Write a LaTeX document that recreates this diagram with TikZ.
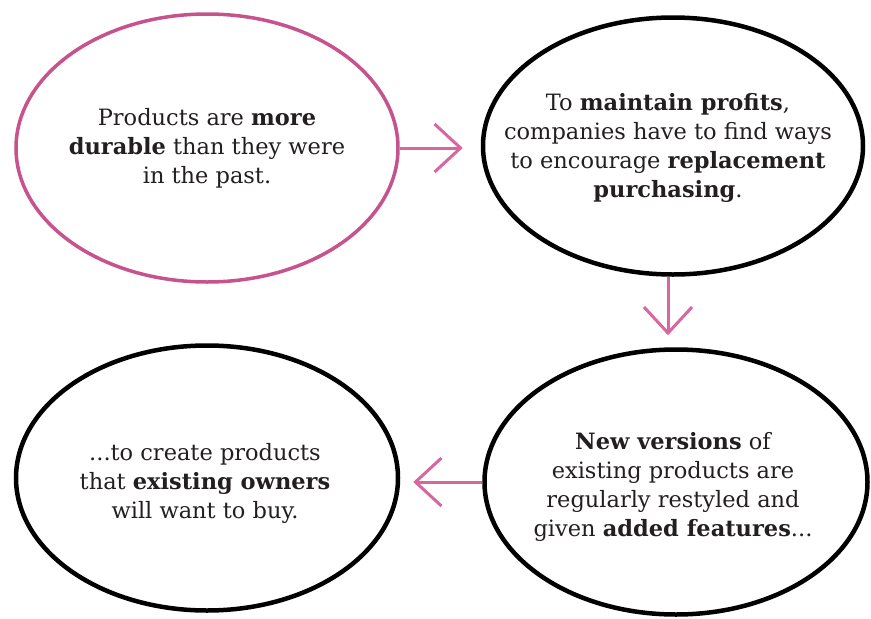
\documentclass[tikz,border=0pt]{standalone}
\usepackage{fontspec}
\setmainfont{DejaVu Serif}
\usetikzlibrary{shapes.geometric,arrows.meta}
\definecolor{inkpink}{HTML}{C6538D}
\definecolor{arrowpink}{HTML}{D8669F}
\definecolor{txt}{HTML}{231F20}
\begin{document}
\begin{tikzpicture}[x=1pt,y=-1pt,
  bubble/.style={ellipse, draw=black, line width=4.5pt, inner sep=0pt},
  bubbletext/.style={inner sep=0pt, text=txt, align=center, font=\fontsize{22.5}{29}\selectfont},
  flow/.style={draw=arrowpink, line width=3pt,
    -{Straight Barb[length=26pt,width=48pt,line width=3pt]}}]
\fill[white] (0,0) rectangle (871,619);
\useasboundingbox (0,0) rectangle (871,619);
\node[bubble, draw=inkpink, line width=3.5pt, minimum width=382pt, minimum height=268pt] (a) at (207,148) {};
\node[bubble, minimum width=380pt, minimum height=257pt] (b) at (673,146) {};
\node[bubble, minimum width=382pt, minimum height=265pt] (c) at (207,478) {};
\node[bubble, minimum width=383pt, minimum height=265pt] (d) at (676,482) {};
\node[bubbletext] (ta) at (207,148)
  {Products are \textbf{more}\\ \textbf{durable} than they were\\ in the past.};
\node[bubbletext] (tb) at (668,148)
  {To \textbf{maintain profits},\\ companies have to find ways\\ to encourage \textbf{replacement}\\ \textbf{purchasing}.};
\node[bubbletext] (tc) at (205,483)
  {...to create products\\ that \textbf{existing owners}\\ will want to buy.};
\node[bubbletext] (td) at (673,487)
  {\textbf{New versions} of\\ existing products are\\ regularly restyled and\\ given \textbf{added features}...};
\draw[flow, shorten >=18pt] (a.east) -- (a.east -| b.west);
\draw[flow, shorten >=12pt] ([xshift=-5pt]b.south) -- ([xshift=-8pt]d.north);
\draw[flow, shorten >=13pt] (d.west) -- (d.west -| c.east);
\end{tikzpicture}
\end{document}
